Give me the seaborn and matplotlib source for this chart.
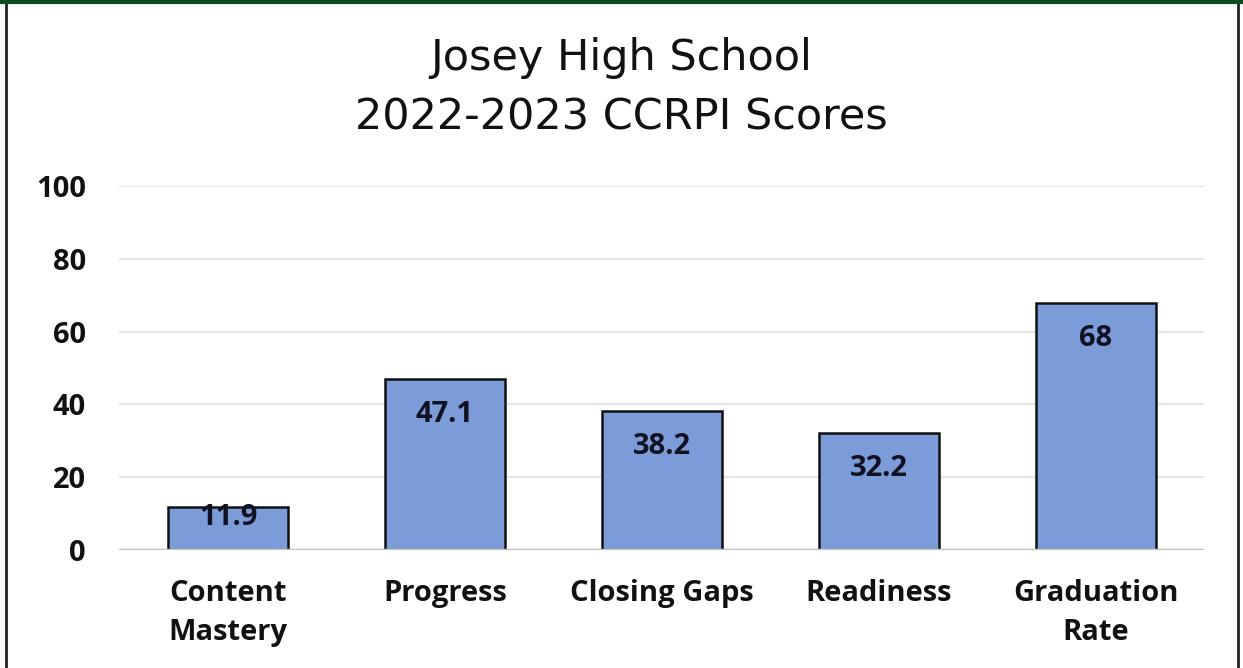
import matplotlib
matplotlib.use("Agg")
import matplotlib.pyplot as plt
import seaborn as sns
import pandas as pd
from matplotlib.lines import Line2D

categories = ["Content\nMastery", "Progress", "Closing Gaps", "Readiness", "Graduation\nRate"]
scores = [11.9, 47.1, 38.2, 32.2, 68]
value_labels = ["11.9", "47.1", "38.2", "32.2", "68"]
yticks = [0, 20, 40, 60, 80, 100]

sns.set_theme(style="white")
plt.rcParams['font.family'] = ['Open Sans', 'DejaVu Sans']

df = pd.DataFrame({"category": categories, "score": scores})

fig = plt.figure(figsize=(12.43, 6.68), dpi=100)
ax = fig.add_axes([0.0961, 0.1766, 0.8729, 0.5449])

sns.barplot(data=df, x="category", y="score", ax=ax, color="#7b9cd8",
            width=0.557, edgecolor="#111111", linewidth=1.8, saturation=1)

ax.set_ylim(0, 100)
ax.set_xlim(-0.5, len(categories) - 0.5)
ax.set_yticks(yticks)
ax.set_yticklabels([str(t) for t in yticks], fontsize=21, fontweight="bold", color="#111111")
ax.tick_params(axis="y", length=0, pad=24)
ax.tick_params(axis="x", length=0, pad=21)
for lab in ax.get_xticklabels():
    lab.set_fontsize(21)
    lab.set_fontweight("bold")
    lab.set_color("#111111")
    lab.set_linespacing(1.45)
ax.set_xlabel("")
ax.set_ylabel("")

for t in yticks[1:]:
    ax.axhline(t, color="#e6e6e6", linewidth=1.5, zorder=0)
ax.axhline(0, color="#bfbfbf", linewidth=2.5, zorder=3)
for s in ax.spines.values():
    s.set_visible(False)

for i, (v, txt) in enumerate(zip(scores, value_labels)):
    y = v - 9.8 if v > 20 else v - 3
    ax.text(i, y, txt, ha="center", va="center", fontsize=21, fontweight="bold",
            color="#111122", zorder=5)

fig.text(0.5, 1 - 58 / 668, "Josey High School", ha="center", va="center",
         fontsize=31, family=["DejaVu Sans"], color="#111111")
fig.text(0.5, 1 - 118 / 668, "2022-2023 CCRPI Scores", ha="center", va="center",
         fontsize=31, family=["DejaVu Sans"], color="#111111")

# frame
fig.add_artist(Line2D([6 / 1243, 6 / 1243], [0, 1 - 2 / 668], transform=fig.transFigure,
                      color="#222222", linewidth=2))
fig.add_artist(Line2D([1238 / 1243, 1238 / 1243], [0, 1 - 2 / 668], transform=fig.transFigure,
                      color="#222222", linewidth=2))
fig.add_artist(Line2D([0, 1], [1 - 1.5 / 668, 1 - 1.5 / 668], transform=fig.transFigure,
                      color="#0b4d1e", linewidth=3))

fig.savefig("out.png", dpi=100)
